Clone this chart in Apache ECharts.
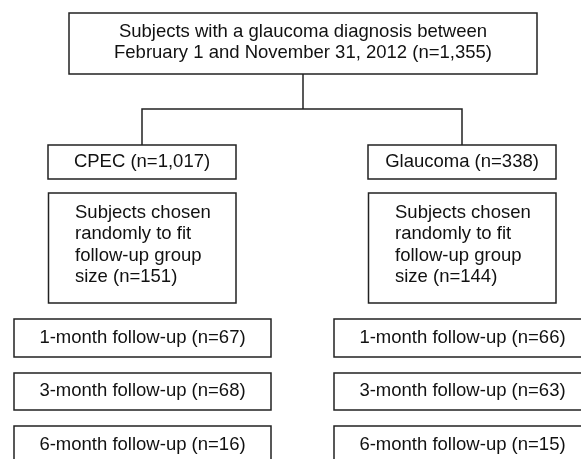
<!DOCTYPE html>
<html><head><meta charset="utf-8">
<script src="https://cdn.jsdelivr.net/npm/echarts@6/dist/echarts.min.js"></script>
<style>html,body{margin:0;padding:0;background:#fff}#c{width:581px;height:459px}</style>
</head><body><div id="c"></div>
<script>
// ---- content ----
const topLines = ['Subjects with a glaucoma diagnosis between', 'February 1 and November 31, 2012 (n=1,355)'];
const groups = ['CPEC', 'Glaucoma'];
const groupN = ['1,017', '338'];
const sampleLines = ['Subjects chosen', 'randomly to fit', 'follow-up group'];
const sampleN = ['151', '144'];
const followMonths = [1, 3, 6];
const followN = [[67, 68, 16], [66, 63, 15]];

// ---- layout (frame units, 581 x 459) ----
const topBox = [69, 13, 537, 74];
const colCenter = [142, 462];
const groupBoxY = [145, 179];
const groupHalfW = 94;
const sampleBoxY = [193, 303];
const followRows = [[319, 357], [373, 410], [426, 464]];
const followHalfW = 128.5;
const branchY = 109;

const FONT = '18.5px "Liberation Sans", Arial, sans-serif';
const STROKE = '#222';
const LW = 1.5;

const boxes = [];
boxes.push({ value: topBox, text: topLines.join('\n'), align: 'center', lh: 21.6, ty: 42.5 });
groups.forEach((g, i) => {
  const cx = colCenter[i];
  boxes.push({ value: [cx - groupHalfW, groupBoxY[0], cx + groupHalfW, groupBoxY[1]],
    text: g + ' (n=' + groupN[i] + ')', align: 'center', lh: 21.6, ty: 162 });
  boxes.push({ value: [cx - groupHalfW + 0.5, sampleBoxY[0], cx + groupHalfW, sampleBoxY[1]],
    text: sampleLines.concat(['size (n=' + sampleN[i] + ')']).join('\n'),
    align: 'left', tx: cx - groupHalfW + 27, lh: 21.2, ty: 245 });
  followMonths.forEach((m, r) => {
    boxes.push({ value: [cx - followHalfW + 0.5, followRows[r][0], cx + followHalfW + 0.5, followRows[r][1]],
      text: m + '-month follow-up (n=' + followN[i][r] + ')', align: 'center', lh: 21.6,
      ty: (followRows[r][0] + Math.min(followRows[r][1], 464)) / 2 - 0.5 });
  });
});

const connectors = [
  { value: [[303, topBox[3]], [303, branchY]] },
  { value: [[colCenter[0], groupBoxY[0]], [colCenter[0], branchY], [colCenter[1], branchY], [colCenter[1], groupBoxY[0]]] }
];

const chart = echarts.init(document.getElementById('c'), null, { renderer: 'canvas' });
chart.setOption({
  animation: false,
  backgroundColor: '#fff',
  grid: { left: 0, right: 0, top: 0, bottom: 0 },
  xAxis: { type: 'value', min: 0, max: 581, show: false },
  yAxis: { type: 'value', min: 0, max: 459, inverse: true, show: false },
  series: [
    {
      type: 'custom', clip: false, data: connectors,
      renderItem: function (params, api) {
        const d = connectors[params.dataIndex].value;
        return { type: 'polyline', shape: { points: d.map(p => api.coord(p)) },
          style: { stroke: STROKE, lineWidth: LW, fill: null } };
      }
    },
    {
      type: 'custom', clip: false, data: boxes,
      renderItem: function (params, api) {
        const b = boxes[params.dataIndex];
        const v = b.value;
        const p0 = api.coord([v[0], v[1]]);
        const p1 = api.coord([v[2], v[3]]);
        const tx = b.align === 'left' ? api.coord([b.tx, 0])[0] : (p0[0] + p1[0]) / 2;
        const ty = api.coord([0, b.ty])[1];
        return { type: 'group', children: [
          { type: 'rect', shape: { x: p0[0], y: p0[1], width: p1[0] - p0[0], height: p1[1] - p0[1] },
            style: { fill: '#fff', stroke: STROKE, lineWidth: LW } },
          { type: 'text', style: { text: b.text, x: tx, y: ty, align: b.align, verticalAlign: 'middle',
            font: FONT, lineHeight: b.lh, fill: '#111' } }
        ] };
      }
    }
  ]
});
</script>
</body></html>
